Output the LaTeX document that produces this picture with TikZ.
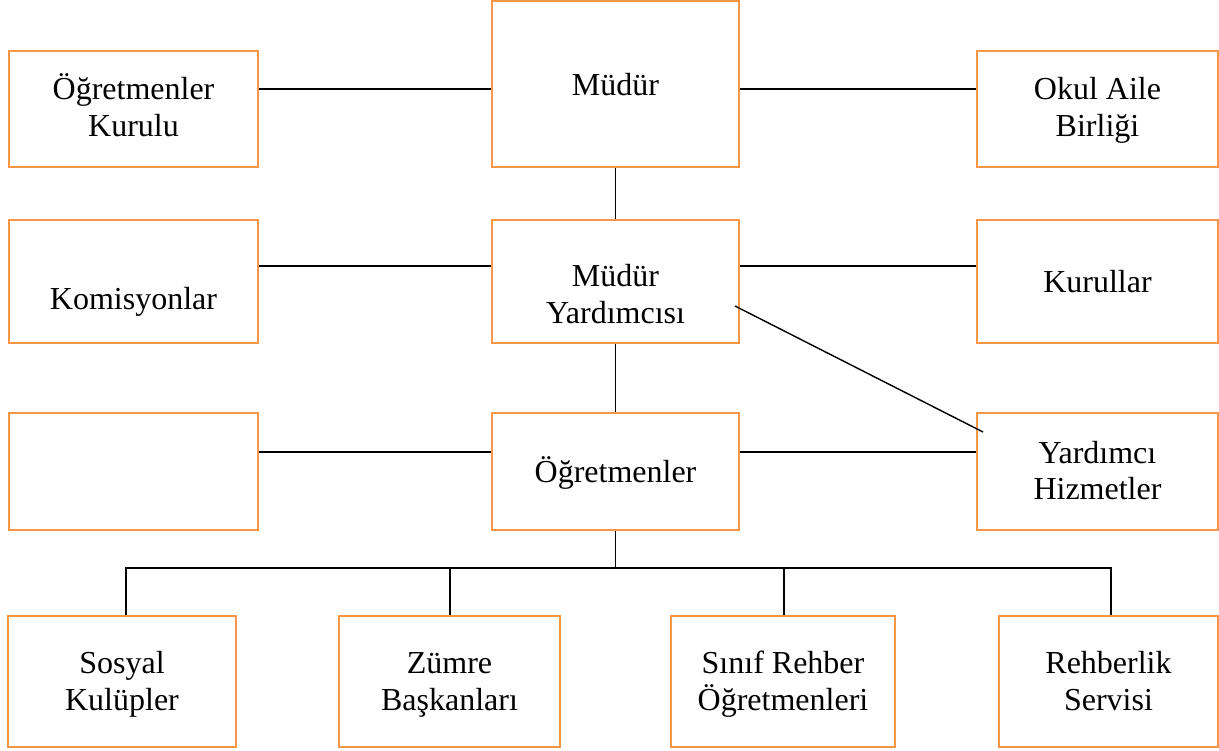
\documentclass[tikz,border=0pt]{standalone}
\usepackage{fontspec}
\setmainfont{Liberation Serif}
\definecolor{boxorange}{HTML}{F79646}
\begin{document}
\begin{tikzpicture}[x=1pt,y=-1pt,
  box/.style={draw=boxorange,line width=2pt,rectangle,inner sep=0pt,fill=none},
  txt/.style={anchor=base,inner sep=0pt,font=\fontsize{32}{37}\selectfont},
  conn/.style={draw=black,line width=1.4pt}]
\useasboundingbox (0,0) rectangle (1219,751);
% boxes
\node[box,minimum width=249,minimum height=116] (ok)  at (133.5,109) {};
\node[box,minimum width=247,minimum height=166] (mud) at (615.5,84) {};
\node[box,minimum width=241,minimum height=116] (oab) at (1097.5,109) {};
\node[box,minimum width=249,minimum height=123] (kom) at (133.5,281.5) {};
\node[box,minimum width=247,minimum height=123] (my)  at (615.5,281.5) {};
\node[box,minimum width=241,minimum height=123] (kur) at (1097.5,281.5) {};
\node[box,minimum width=249,minimum height=117] (emp) at (133.5,471.5) {};
\node[box,minimum width=247,minimum height=117] (ogr) at (615.5,471.5) {};
\node[box,minimum width=241,minimum height=117] (yh)  at (1097.5,471.5) {};
\node[box,minimum width=228,minimum height=131] (sos) at (122,681.5) {};
\node[box,minimum width=221,minimum height=131] (zum) at (449.5,681.5) {};
\node[box,minimum width=224,minimum height=131] (sin) at (783,681.5) {};
\node[box,minimum width=219,minimum height=131] (reh) at (1108.5,681.5) {};
% texts
\node[txt] (okt1) at (133.5,100) {Öğretmenler};
\node[txt] (okt2) at (133.5,137) {Kurulu};
\node[txt] (mudt) at (615.5,96) {Müdür};
\node[txt] (oabt1) at (1097.5,100) {Okul Aile};
\node[txt] (oabt2) at (1097.5,137) {Birliği};
\node[txt] (komt) at (133.5,310) {Komisyonlar};
\node[txt] (myt1) at (615.5,287) {Müdür};
\node[txt] (myt2) at (615.5,324) {Yardımcısı};
\node[txt] (kurt) at (1097.5,293) {Kurullar};
\node[txt] (ogrt) at (615.5,482) {Öğretmenler};
\node[txt] (yht1) at (1097.5,463) {Yardımcı};
\node[txt] (yht2) at (1097.5,499) {Hizmetler};
\node[txt] (sost1) at (122,673) {Sosyal};
\node[txt] (sost2) at (122,710) {Kulüpler};
\node[txt] (zumt1) at (449.5,673) {Zümre};
\node[txt] (zumt2) at (449.5,710) {Başkanları};
\node[txt] (sint1) at (783,673) {Sınıf Rehber};
\node[txt] (sint2) at (783,710) {Öğretmenleri};
\node[txt] (reht1) at (1108.5,673) {Rehberlik};
\node[txt] (reht2) at (1108.5,710) {Servisi};
% row coordinates
\coordinate (r1) at (0,89);
\coordinate (r2) at (0,266);
\coordinate (r3) at (0,452);
\coordinate (bus) at (0,568);
\coordinate (d1) at (735,306);
\coordinate (d2) at (983,432);
% connectors
\draw[conn] (ok.east |- r1) -- (mud.west |- r1);
\draw[conn] (mud.east |- r1) -- (oab.west |- r1);
\draw[conn] (mud.south) -- (my.north);
\draw[conn] (kom.east |- r2) -- (my.west |- r2);
\draw[conn] (my.east |- r2) -- (kur.west |- r2);
\draw[conn] (my.south) -- (ogr.north);
\draw[conn] (emp.east |- r3) -- (ogr.west |- r3);
\draw[conn] (ogr.east |- r3) -- (yh.west |- r3);
\draw[conn] (d1) -- (d2);
\draw[conn] (ogr.south) -- (ogr.south |- bus);
\draw[conn] (sos.north -| 126,0) -- (126,568) -- (1111,568) -- (reh.north -| 1111,0);
\draw[conn] (zum.north -| 450,0) -- (450,568);
\draw[conn] (sin.north -| 784,0) -- (784,568);
\end{tikzpicture}
\end{document}
